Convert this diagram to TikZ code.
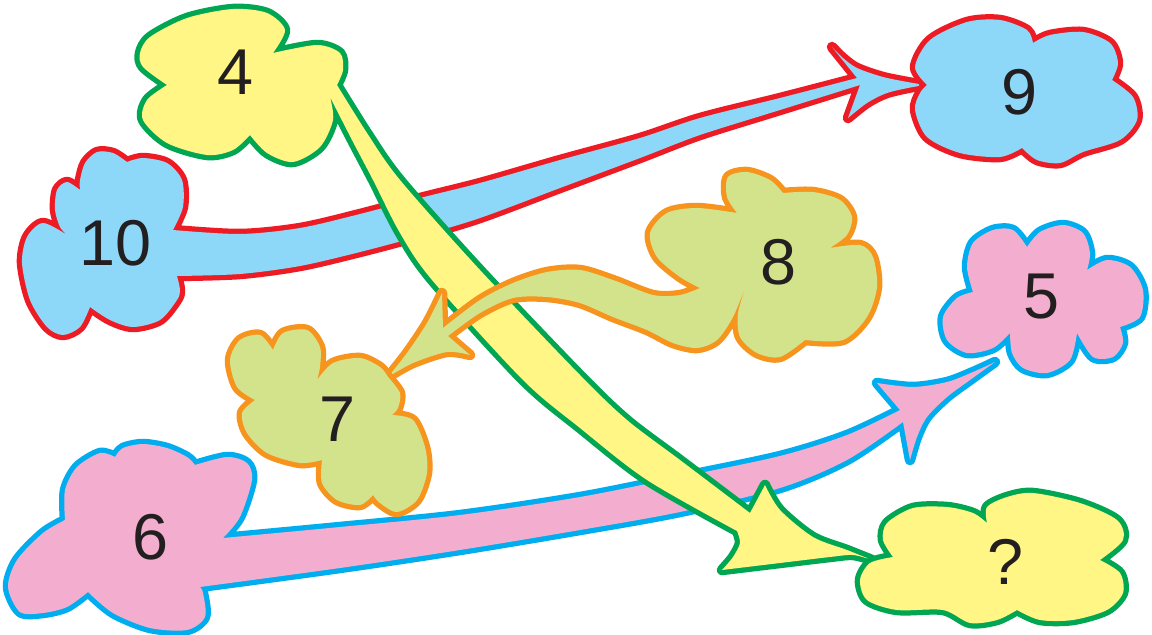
\documentclass[tikz,border=0pt]{standalone}
\usepackage{fontspec}
\usepackage{tikz}
\newfontfamily\numfont{Liberation Sans}
\definecolor{cyel}{HTML}{FFF685}
\definecolor{cgrn}{HTML}{00A651}
\definecolor{cblu}{HTML}{8DD8F8}
\definecolor{cred}{HTML}{ED1C24}
\definecolor{cpnk}{HTML}{F3ADCE}
\definecolor{ccya}{HTML}{00AEEF}
\definecolor{clim}{HTML}{D3E38B}
\definecolor{corg}{HTML}{F7941D}
\definecolor{cink}{HTML}{231F20}
\begin{document}
\begin{tikzpicture}[x=1bp, y=-1bp,
  num/.style={font=\numfont\fontsize{65}{70}\selectfont, text=cink, inner sep=0pt},
  yelblob/.style={fill=cyel, preaction={draw=cgrn, line width=10.5bp, line join=round}},
  blublob/.style={fill=cblu, preaction={draw=cred, line width=10.5bp, line join=round}},
  pnkblob/.style={fill=cpnk, preaction={draw=ccya, line width=10.5bp, line join=round}},
  limblob/.style={fill=clim, preaction={draw=corg, line width=10.5bp, line join=round}}]
\useasboundingbox (0,0) rectangle (1152,635);

% 10 -> 9
\fill[blublob] (173,230)
 -- plot[smooth] coordinates {(173,230) (240,234) (300,228) (360,214) (420,198) (480,183) (560,160) (640,138) (700,118) (780,98) (857,78)}
 -- (832,47)
 -- plot[smooth] coordinates {(832,47) (843,58) (857,68) (883,77) (913,83) (927,85)}
 -- plot[smooth] coordinates {(927,85) (913,87) (887,93) (867,103) (848,118)}
 -- (860,85)
 -- plot[smooth] coordinates {(860,85) (780,110) (700,135) (640,158) (560,188) (480,218) (420,236) (360,252) (300,266) (240,274) (177,276)}
 -- plot[smooth] coordinates {(177,276) (180,290) (177,300) (160,320) (133,327) (110,320) (90,307)}
 -- plot[smooth] coordinates {(90,307) (80,327) (63,335) (47,327) (30,300) (22,263) (27,237) (43,223) (67,235)}
 -- plot[smooth] coordinates {(67,235) (60,227) (55,210) (57,190) (67,182) (80,190)}
 -- plot[smooth] coordinates {(80,190) (80,180) (85,163) (97,152) (113,153) (127,162)}
 -- plot[smooth] coordinates {(127,162) (143,158) (167,163) (182,180) (183,207) (173,230)}
 -- cycle;

% 6 -> 5
\fill[pnkblob] (223,538)
 -- plot[smooth] coordinates {(223,538) (340,527) (460,515) (580,497) (680,477) (780,456) (847,435) (900,410)}
 -- (877,383)
 -- plot[smooth] coordinates {(877,383) (913,387) (947,382) (973,372) (995,362)}
 -- plot[smooth] coordinates {(995,362) (970,380) (947,397) (927,417) (917,437) (910,460)}
 -- (903,422)
 -- plot[smooth] coordinates {(903,422) (847,460) (780,488) (680,512) (580,530) (460,550) (340,568) (200,587)}
 -- plot[smooth] coordinates {(200,587) (203,593) (205,617) (187,630) (150,628) (113,613) (88,592)}
 -- plot[smooth] coordinates {(88,592) (67,607) (43,613) (20,612) (8,587) (17,560) (43,533) (65,520)}
 -- plot[smooth] coordinates {(65,520) (65,490) (77,467) (100,453) (115,457)}
 -- plot[smooth] coordinates {(115,457) (123,448) (143,444) (167,448) (187,457) (195,465)}
 -- plot[smooth] coordinates {(195,465) (227,457) (247,463) (252,480) (240,517) (223,538)}
 -- cycle;

% 4 -> ?
\fill[yelblob] (167,85)
 -- plot[smooth] coordinates {(167,85) (143,67) (140,53) (150,37) (187,18) (233,9) (267,13) (285,30) (273,53)}
 -- plot[smooth] coordinates {(273,53) (317,45) (340,53) (343,70) (337,85)}
 -- plot[smooth] coordinates {(337,85) (367,133) (400,180) (480,270) (580,375) (627,420) (680,460) (750,513)}
 -- (765,485)
 -- plot[smooth] coordinates {(765,485) (780,510) (813,537) (847,550) (872,560)}
 -- plot[smooth] coordinates {(872,560) (853,555) (830,557) (780,563) (722,570)}
 -- plot[smooth] coordinates {(722,570) (733,557) (740,543) (737,531)}
 -- plot[smooth] coordinates {(737,531) (647,480) (580,428) (523,380) (432,280) (400,233) (373,180) (352,140) (330,97)}
 -- plot[smooth] coordinates {(330,97) (333,120) (320,147) (293,162) (267,153) (250,135)}
 -- plot[smooth] coordinates {(250,135) (233,150) (207,155) (167,143) (143,120) (147,100) (167,85)}
 -- cycle;

% 8 -> 7
\fill[limblob] (700,288)
 -- plot[smooth] coordinates {(700,288) (680,295) (653,295) (613,280) (580,270) (547,272) (513,283) (480,300) (443,328)}
 -- (442,293)
 -- plot[smooth] coordinates {(442,293) (427,323) (407,353) (388,377)}
 -- plot[smooth] coordinates {(388,377) (413,363) (447,352) (470,355)}
 -- (448,336)
 -- plot[smooth] coordinates {(448,336) (480,313) (513,298) (547,297) (580,303) (613,317) (647,330) (673,343) (697,348) (717,340) (733,317) (747,283)}
 -- plot[smooth] coordinates {(747,283) (738,313) (740,337) (757,353) (780,357) (805,340)}
 -- plot[smooth] coordinates {(805,340) (843,340) (867,317) (877,287) (873,257) (860,245) (830,248)}
 -- plot[smooth] coordinates {(830,248) (847,235) (852,217) (840,200) (813,192) (783,193)}
 -- plot[smooth] coordinates {(783,193) (770,180) (747,172) (728,177) (727,197) (737,213)}
 -- plot[smooth] coordinates {(737,213) (697,208) (667,213) (650,233) (657,257) (680,277) (700,288)}
 -- cycle;

% clouds without tails
\fill[limblob] (388,377)
 -- plot[smooth] coordinates {(388,377) (400,393) (398,408) (392,415)}
 -- plot[smooth] coordinates {(392,415) (413,420) (425,447) (427,473) (417,500) (397,512) (380,503) (373,495)}
 -- plot[smooth] coordinates {(373,495) (360,505) (337,500) (322,483) (322,460)}
 -- plot[smooth] coordinates {(322,460) (300,463) (267,453) (247,433) (242,413) (255,400)}
 -- plot[smooth] coordinates {(255,400) (237,387) (230,360) (240,340) (260,335) (273,350)}
 -- plot[smooth] coordinates {(273,350) (283,333) (307,330) (320,347) (320,367) (317,380)}
 -- plot[smooth] coordinates {(317,380) (333,363) (360,358) (380,367) (388,377)}
 -- cycle;
\fill[blublob] (927,85)
 -- plot[smooth] coordinates {(927,85) (915,67) (930,40) (967,22) (1000,20) (1027,30) (1033,43)}
 -- plot[smooth] coordinates {(1033,43) (1050,35) (1083,32) (1110,43) (1118,63) (1112,80)}
 -- plot[smooth] coordinates {(1112,80) (1133,97) (1137,120) (1120,140) (1083,152) (1060,163) (1037,160) (1022,148)}
 -- plot[smooth] coordinates {(1022,148) (1000,157) (960,153) (927,137) (915,110) (920,93) (927,85)}
 -- cycle;
\fill[pnkblob] (973,292)
 -- plot[smooth] coordinates {(973,292) (967,267) (973,243) (993,230) (1013,230) (1027,247)}
 -- plot[smooth] coordinates {(1027,247) (1040,232) (1063,225) (1083,233) (1090,253) (1087,270)}
 -- plot[smooth] coordinates {(1087,270) (1107,260) (1130,267) (1143,290) (1140,317) (1120,327)}
 -- plot[smooth] coordinates {(1120,327) (1123,343) (1113,357) (1093,357) (1077,333)}
 -- plot[smooth] coordinates {(1077,333) (1070,360) (1047,373) (1023,368) (1012,353) (1010,333)}
 -- plot[smooth] coordinates {(1010,333) (993,348) (967,353) (947,340) (943,317) (957,298) (973,292)}
 -- cycle;
\fill[yelblob] (893,557)
 -- plot[smooth] coordinates {(893,557) (883,540) (887,523) (913,508) (947,507) (973,513) (987,523)}
 -- plot[smooth] coordinates {(987,523) (987,507) (1007,497) (1033,493) (1080,503) (1117,520) (1123,540) (1100,560)}
 -- plot[smooth] coordinates {(1100,560) (1120,573) (1123,593) (1107,610) (1073,620) (1040,620) (1017,610)}
 -- plot[smooth] coordinates {(1017,610) (997,620) (970,623) (943,610) (897,610) (867,600) (860,580) (870,563) (893,557)}
 -- cycle;

\node[num] (n4) at (236,72) {4};
\node[num] (n10) at (116,243) {10};
\node[num] (n9) at (1019,92) {9};
\node[num] (n8) at (779,262) {8};
\node[num] (n7) at (338,419) {7};
\node[num] (n5) at (1041,297) {5};
\node[num] (n6) at (151,537) {6};
\node[num] (nq) at (1005,562) {?};
\end{tikzpicture}
\end{document}
